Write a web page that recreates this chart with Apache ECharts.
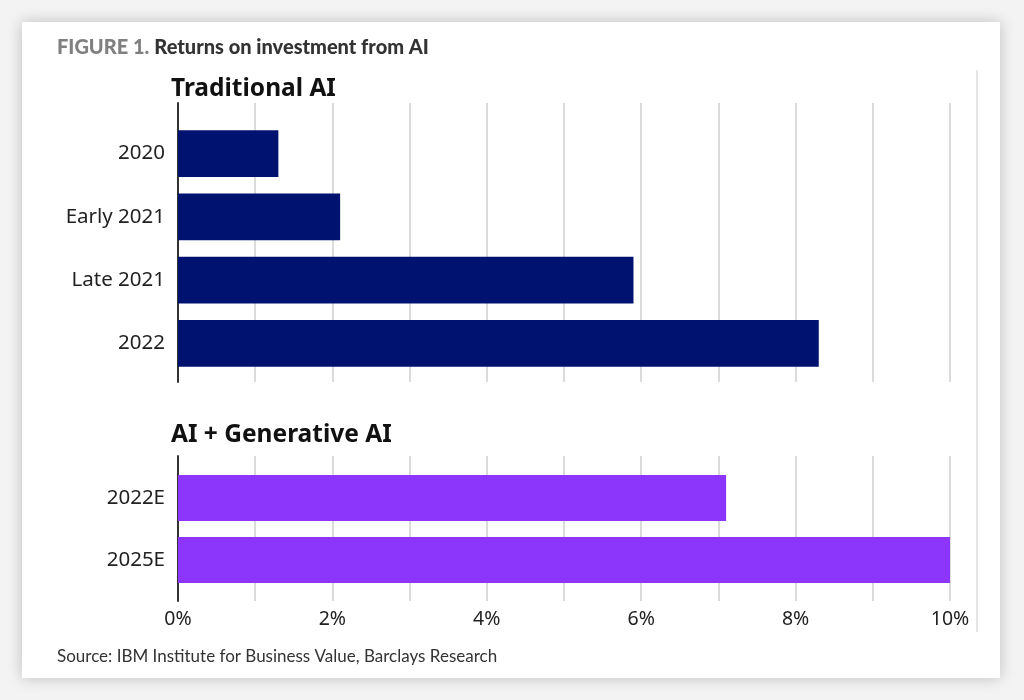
<!DOCTYPE html>
<html>
<head>
<meta charset="utf-8">
<script src="https://cdn.jsdelivr.net/npm/echarts@6/dist/echarts.min.js"></script>
<style>
html,body{margin:0;padding:0;background:#f3f3f3;width:1024px;height:700px;overflow:hidden;}
#card{position:absolute;left:22px;top:22px;width:978px;height:656px;background:#fff;box-shadow:0 0 14px rgba(0,0,0,0.22);}
#chart{position:absolute;left:0;top:0;width:1024px;height:700px;}
</style>
</head>
<body>
<div id="card"></div>
<div id="chart"></div>
<script>
const traditionalCategories = ['2020', 'Early 2021', 'Late 2021', '2022'];
const traditionalValues = [1.3, 2.1, 5.9, 8.3];
const genAICategories = ['2022E', '2025E'];
const genAIValues = [7.1, 10.0];
const xTicks = [0, 2, 4, 6, 8, 10];

const chart = echarts.init(document.getElementById('chart'), null, {renderer: 'canvas'});
const FONT = 'Noto Sans';
const gridX = {left: 178, width: 772};

function valueAxis(idx, opts) {
  return Object.assign({
    type: 'value', gridIndex: idx, min: 0, max: 10, interval: 1,
    axisLine: {show: false}, axisTick: {show: false},
    axisLabel: {show: false}, splitLine: {show: false}
  }, opts || {});
}
const splitLineStyle = {show: true, lineStyle: {color: '#cfcfcf', width: 1.5}};

const option = {
  backgroundColor: 'transparent',
  animation: false,
  title: [
    {text: '{g|FIGURE 1.} {d|Returns on investment from AI}', left: 57, top: 38, padding: 0,
     textStyle: {rich: {
       g: {fontFamily: 'Lato', fontWeight: 900, fontSize: 20, color: '#808080'},
       d: {fontFamily: 'Lato', fontWeight: 900, fontSize: 20, color: '#333333'}
     }}},
    {text: 'Traditional AI', left: 171, top: 77, padding: 0,
     textStyle: {fontFamily: FONT, fontWeight: 'bold', fontSize: 24.5, color: '#111'}},
    {text: 'AI + Generative AI', left: 171, top: 423, padding: 0,
     textStyle: {fontFamily: FONT, fontWeight: 'bold', fontSize: 24.5, color: '#111'}},
    {text: 'Source: IBM Institute for Business Value, Barclays Research', left: 57, top: 648, padding: 0,
     textStyle: {fontFamily: 'Lato', fontWeight: 'normal', fontSize: 17, color: '#333'}}
  ],
  grid: [
    Object.assign({top: 122, height: 253}, gridX),
    Object.assign({top: 103, height: 279}, gridX),
    Object.assign({top: 467, height: 124}, gridX),
    Object.assign({top: 456, height: 145}, gridX)
  ],
  xAxis: [
    valueAxis(0),
    valueAxis(1, {splitLine: splitLineStyle}),
    valueAxis(2),
    valueAxis(3, {splitLine: splitLineStyle,
      axisLabel: {show: true, margin: 8, fontFamily: FONT, fontSize: 19.5, color: '#222',
        formatter: function (v) { return xTicks.indexOf(v) >= 0 ? v + '%' : ''; }}})
  ],
  yAxis: [
    {type: 'category', gridIndex: 0, data: traditionalCategories, inverse: true,
     axisLine: {show: false}, axisTick: {show: false},
     axisLabel: {margin: 13, fontFamily: FONT, fontSize: 20.5, color: '#222'}},
    {type: 'value', gridIndex: 1, axisLine: {show: true, lineStyle: {color: '#333', width: 2}},
     axisTick: {show: false}, axisLabel: {show: false}, splitLine: {show: false}},
    {type: 'category', gridIndex: 2, data: genAICategories, inverse: true,
     axisLine: {show: false}, axisTick: {show: false},
     axisLabel: {margin: 13, fontFamily: FONT, fontSize: 20.5, color: '#222'}},
    {type: 'value', gridIndex: 3, axisLine: {show: true, lineStyle: {color: '#333', width: 2}},
     axisTick: {show: false}, axisLabel: {show: false}, splitLine: {show: false}}
  ],
  graphic: [
    {type: 'line', shape: {x1: 977, y1: 70, x2: 977, y2: 632},
     style: {stroke: '#e6e6e6', lineWidth: 2}, silent: true}
  ],
  series: [
    {type: 'bar', xAxisIndex: 0, yAxisIndex: 0, data: traditionalValues, barWidth: '74%',
     itemStyle: {color: '#001270'}, z: 3},
    {type: 'bar', xAxisIndex: 2, yAxisIndex: 2, data: genAIValues, barWidth: '74%',
     itemStyle: {color: '#8c36fb'}, z: 3}
  ]
};
chart.setOption(option);
</script>
</body>
</html>
